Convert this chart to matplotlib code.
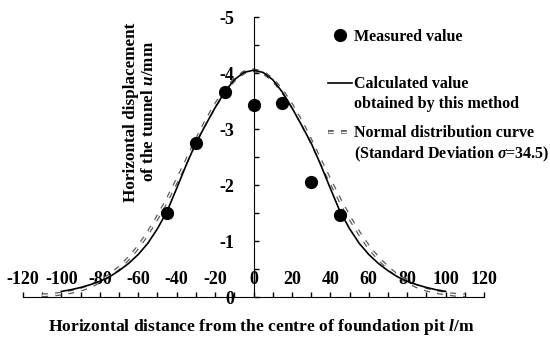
import matplotlib
matplotlib.use('Agg')
import matplotlib.pyplot as plt
import matplotlib.patheffects as pe
from matplotlib.lines import Line2D
from matplotlib.ticker import MultipleLocator

plt.rcParams['font.family'] = ['Liberation Serif', 'DejaVu Serif']
plt.rcParams['font.weight'] = 'bold'
plt.rcParams['axes.labelweight'] = 'bold'
plt.rcParams['axes.unicode_minus'] = False
plt.rcParams['mathtext.fontset'] = 'custom'
plt.rcParams['mathtext.it'] = 'Liberation Serif:italic:bold'
plt.rcParams['mathtext.rm'] = 'Liberation Serif:bold'

# measured points
meas_x = [-45, -30, -15, 0, 15, 30, 45]
meas_u = [-1.50, -2.75, -3.66, -3.43, -3.47, -2.05, -1.47]

# curve by this method (read every 5 m)
calc_x = [-100, -95, -90, -85, -80, -75, -70, -65, -60, -55, -50, -45, -40, -35, -30, -25, -20, -15, -10, -5,
          0, 5, 10, 15, 20, 25, 30, 35, 40, 45, 50, 55, 60, 65, 70, 75, 80, 85, 90, 95, 100]
calc_u = [-0.10, -0.13, -0.17, -0.22, -0.28, -0.36, -0.47, -0.60, -0.76, -0.96, -1.22, -1.53, -1.94, -2.36, -2.75, -3.07, -3.38, -3.66, -3.88, -4.01,
          -4.05, -4.01, -3.88, -3.66, -3.38, -3.07, -2.75, -2.36, -1.94, -1.53, -1.22, -0.96, -0.76, -0.60, -0.47, -0.36, -0.28, -0.22, -0.17, -0.13, -0.10]

# normal distribution curve
norm_x = [-110, -105, -100, -95, -90, -85, -80, -75, -70, -65, -60, -55, -50, -45, -40, -35, -30, -25, -20, -15, -10, -5,
          0, 5, 10, 15, 20, 25, 30, 35, 40, 45, 50, 55, 60, 65, 70, 75, 80, 85, 90, 95, 100, 105, 110]
norm_u = [-0.03, -0.04, -0.06, -0.09, -0.13, -0.19, -0.28, -0.38, -0.52, -0.69, -0.89, -1.14, -1.42, -1.73, -2.07, -2.42, -2.78, -3.12, -3.42, -3.68, -3.88, -4.01,
          -4.05, -4.01, -3.88, -3.68, -3.42, -3.12, -2.78, -2.42, -2.07, -1.73, -1.42, -1.14, -0.89, -0.69, -0.52, -0.38, -0.28, -0.19, -0.13, -0.09, -0.06, -0.04, -0.03]

fig = plt.figure(figsize=(5.5, 3.4), dpi=100)
ax = fig.add_axes([23/550, 43/340, 461/550, 280/340])

dash_fx = [pe.Stroke(linewidth=2.8, foreground='#5a5a5a'), pe.Normal()]
ln_norm, = ax.plot(norm_x, norm_u, color='white', lw=1.0, dashes=(4.2, 5.2), dash_capstyle='butt',
                   path_effects=dash_fx, zorder=2)
ln_calc, = ax.plot(calc_x, calc_u, color='black', lw=1.2, zorder=3)
pts, = ax.plot(meas_x, meas_u, 'o', color='black', ms=8.5, zorder=4)

ax.set_xlim(-120, 120)
ax.set_ylim(0, -5)
ax.spines['left'].set_position(('data', 0))
ax.spines['top'].set_visible(False)
ax.spines['right'].set_visible(False)
ax.xaxis.set_major_locator(MultipleLocator(20))
ax.xaxis.set_minor_locator(MultipleLocator(10))
ax.yaxis.set_major_locator(MultipleLocator(1))
ax.yaxis.set_minor_locator(MultipleLocator(0.5))
ax.tick_params(axis='x', which='both', direction='in', length=3.5, width=1, pad=-18.7, labelsize=13)
ax.tick_params(axis='y', which='both', direction='in', length=3.5, width=1, pad=14, labelsize=13)
ax.set_yticks([0, -1, -2, -3, -4, -5])
ax.set_yticklabels(['0', '-1', '-2', '-3', '-4', '-5'])

ax.set_xlabel('Horizontal distance from the centre of foundation pit $l$/m', fontsize=12.6, va='center')
ax.xaxis.set_label_coords(0.516, -0.107)
ax.set_ylabel('Horizontal displacement\nof the tunnel $u$/mm', fontsize=12.3, va='center', ha='center',
              multialignment='center')
ax.yaxis.set_label_coords(0.254, 0.661)

leg_kw = dict(loc='upper left', frameon=False, borderpad=0, borderaxespad=0, handlelength=1.5,
              handletextpad=0.1, fontsize=11.5, labelspacing=0.25)
blank = Line2D([], [], color='none')
l1 = fig.legend([pts], ['Measured value'], bbox_to_anchor=(328/550, 0.915), **leg_kw)
l2 = fig.legend([ln_calc, blank], ['Calculated value', 'obtained by this method'],
                bbox_to_anchor=(328/550, 0.776), **leg_kw)
l3 = fig.legend([ln_norm, blank], ['Normal distribution curve', '(Standard Deviation $\\sigma$=34.5)'],
                bbox_to_anchor=(328/550, 0.632), **leg_kw)

fig.savefig('out.png', dpi=100)
